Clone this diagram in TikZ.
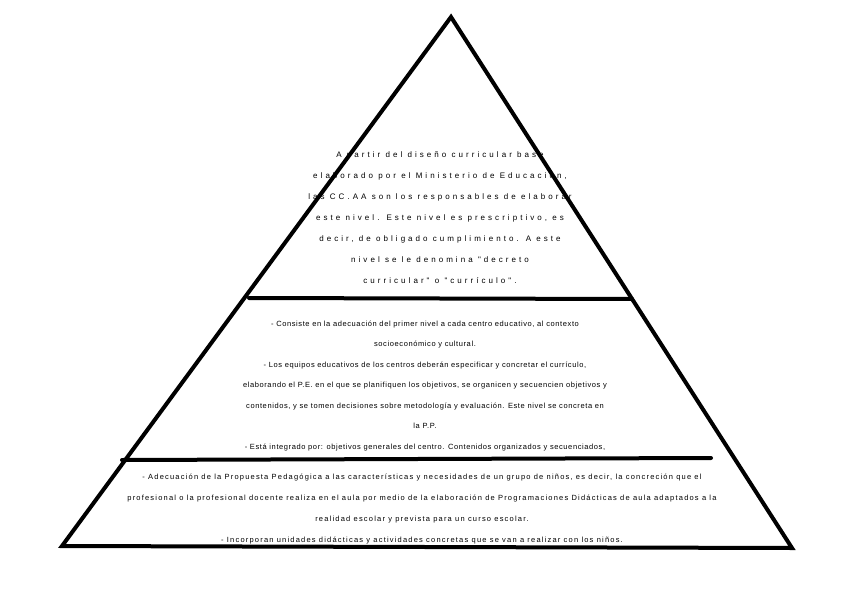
\documentclass[tikz,border=0pt]{standalone}
\usepackage{fontspec}
\setmainfont{Liberation Sans}
\newfontfamily\topf[LetterSpace=38]{Liberation Sans}
\newfontfamily\midf[LetterSpace=8]{Liberation Sans}
\newfontfamily\botf[LetterSpace=16]{Liberation Sans}
\begin{document}
\begin{tikzpicture}[x=1pt,y=-1pt,
  edge/.style={line width=4pt,line cap=round,line join=miter},
  txt/.style={align=center,inner sep=0pt}]
\useasboundingbox (0,0) rectangle (848,599);
\coordinate (A) at (451,17);
\coordinate (L) at (62,546);
\coordinate (R) at (792,548);
\coordinate (m1l) at (249,298);
\coordinate (m1r) at (632,299);
\coordinate (m2l) at (122,460);
\coordinate (m2r) at (711,458);
\draw[edge] (L) -- (A) -- (R) -- cycle;
\draw[edge] (m1l) -- (m1r);
\draw[edge] (m2l) -- (m2r);
\node[txt,font=\topf\fontsize{8}{21}\selectfont] (t1) at (440,218) {A partir del diseño curricular base\\elaborado por el Ministerio de Educación,\\las CC.AA son los responsables de elaborar\\este nivel. Este nivel es prescriptivo, es\\decir, de obligado cumplimiento. A este\\nivel se le denomina "decreto\\curricular" o "currículo".};
\node[txt,font=\midf\fontsize{7.5}{20.5}\selectfont] (t2) at (425,386) {- Consiste en la adecuación del primer nivel a cada centro educativo, al contexto\\socioeconómico y cultural.\\- Los equipos educativos de los centros deberán especificar y concretar el currículo,\\elaborando el P.E. en el que se planifiquen los objetivos, se organicen y secuencien objetivos y\\contenidos, y se tomen decisiones sobre metodología y evaluación. Este nivel se concreta en\\la P.P.\\- Está integrado por: objetivos generales del centro. Contenidos organizados y secuenciados,};
\node[txt,font=\botf\fontsize{7.5}{21}\selectfont] (t3) at (422,509) {- Adecuación de la Propuesta Pedagógica a las características y necesidades de un grupo de niños, es decir, la concreción que el\\profesional o la profesional docente realiza en el aula por medio de la elaboración de Programaciones Didácticas de aula adaptados a la\\realidad escolar y prevista para un curso escolar.\\- Incorporan unidades didácticas y actividades concretas que se van a realizar con los niños.};
\end{tikzpicture}
\end{document}
